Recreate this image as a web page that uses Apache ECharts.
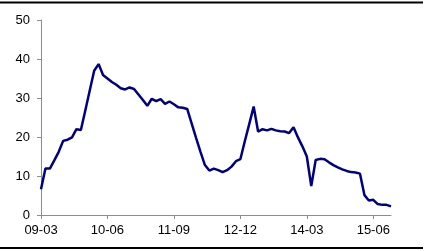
<!DOCTYPE html>
<html>
<head>
<meta charset="utf-8">
<script src="https://cdn.jsdelivr.net/npm/echarts@6/dist/echarts.min.js"></script>
<style>html,body{margin:0;padding:0;background:#fff}#c{width:431px;height:251px}</style>
</head>
<body>
<div id="c"></div>
<script>
// monthly categories 2009-03 .. 2015-10
const startYear = 2009, startMonth = 3, nPoints = 80;
const categories = [];
for (let i = 0; i < nPoints; i++) {
  const m = startMonth - 1 + i;
  const y = startYear + Math.floor(m / 12);
  const mm = (m % 12) + 1;
  categories.push(String(y % 100).padStart(2, '0') + '-' + String(mm).padStart(2, '0'));
}
const values = [
  6.6, 11.9, 11.9, 14.0, 16.2, 19.0, 19.3, 19.9, 22.0, 21.8,
  26.8, 31.9, 37.0, 38.7, 35.9, 35.0, 34.1, 33.4, 32.5, 32.2,
  32.7, 32.3, 30.9, 29.5, 28.0, 29.8, 29.2, 29.7, 28.5, 29.1,
  28.4, 27.6, 27.5, 27.2, 23.5, 19.8, 16.2, 12.8, 11.4, 11.9,
  11.5, 11.0, 11.5, 12.4, 13.8, 14.3, 18.9, 23.3, 27.8, 21.4,
  22.0, 21.7, 22.1, 21.7, 21.5, 21.4, 21.0, 22.5, 19.9, 17.6,
  15.0, 7.4, 14.1, 14.4, 14.3, 13.5, 12.8, 12.2, 11.7, 11.3,
  11.0, 10.9, 10.6, 5.1, 3.7, 3.9, 2.8, 2.6, 2.6, 2.2
];
const yTicks = [0, 10, 20, 30, 40, 50];

const chart = echarts.init(document.getElementById('c'), null, {renderer: 'canvas'});
chart.setOption({
  animation: false,
  grid: {left: 41, right: 40, top: 20, bottom: 36, containLabel: false},
  xAxis: {
    type: 'category',
    data: categories,
    boundaryGap: false,
    axisLine: {lineStyle: {color: '#8c8c8c', width: 1}},
    axisTick: {show: true, interval: 14, length: 4, inside: false, lineStyle: {color: '#8c8c8c'}},
    axisLabel: {interval: 14, color: '#000', fontFamily: 'Liberation Sans, Arial', fontSize: 13, margin: 9},
    splitLine: {show: false}
  },
  yAxis: {
    type: 'value',
    min: yTicks[0], max: yTicks[yTicks.length - 1], interval: 10,
    axisLine: {show: true, lineStyle: {color: '#8c8c8c', width: 1}},
    axisTick: {show: true, length: 4, lineStyle: {color: '#8c8c8c'}},
    axisLabel: {color: '#000', fontFamily: 'Liberation Sans, Arial', fontSize: 13, margin: 11},
    splitLine: {show: false}
  },
  series: [{
    type: 'line',
    data: values,
    showSymbol: false,
    smooth: false,
    lineStyle: {color: '#000080', width: 2.5},
    itemStyle: {color: '#000080'}
  }],
  graphic: [
    {type: 'line', shape: {x1: 0, y1: 2.5, x2: 423, y2: 2.5}, style: {stroke: '#000', lineWidth: 2}},
    {type: 'line', shape: {x1: 0, y1: 248, x2: 423, y2: 248}, style: {stroke: '#000', lineWidth: 2}}
  ]
});
</script>
</body>
</html>
